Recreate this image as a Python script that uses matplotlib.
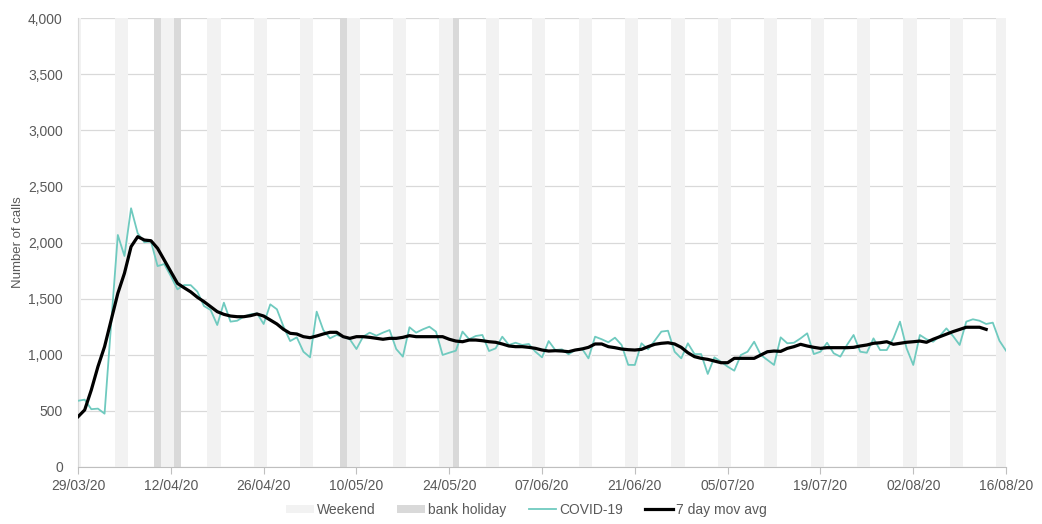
import numpy as np
import pandas as pd
import matplotlib
matplotlib.use('Agg')
import matplotlib.pyplot as plt
import matplotlib.dates as mdates
from matplotlib.patches import Patch
from matplotlib.lines import Line2D
from matplotlib.ticker import FuncFormatter, MultipleLocator

plt.rcParams['font.family'] = ['Liberation Sans', 'DejaVu Sans']

dates = pd.date_range('2020-03-29', '2020-08-16', freq='D')

covid = [590, 600, 515, 520, 475, 1280, 2067, 1880, 2305, 2082,
         2002, 2010, 1790, 1808, 1700, 1583, 1621, 1620, 1562, 1434,
         1399, 1265, 1464, 1295, 1303, 1339, 1360, 1369, 1274, 1449,
         1405, 1250, 1122, 1155, 1027, 977, 1384, 1220, 1146, 1176,
         1160, 1138, 1051, 1161, 1197, 1170, 1197, 1220, 1051, 983,
         1245, 1197, 1226, 1250, 1206, 998, 1018, 1036, 1206, 1138,
         1167, 1176, 1033, 1057, 1161, 1087, 1107, 1087, 1096, 1027,
         977, 1122, 1042, 1048, 1004, 1042, 1057, 968, 1161, 1138,
         1111, 1152, 1087, 910, 909, 1102, 1048, 1125, 1206, 1214,
         1027, 968, 1102, 1006, 1006, 829, 977, 938, 894, 858,
         998, 1027, 1116, 998, 953, 909, 1155, 1102, 1107, 1146,
         1191, 1006, 1027, 1107, 1013, 983, 1087, 1176, 1027, 1018,
         1146, 1042, 1042, 1146, 1295, 1057, 909, 1176, 1138, 1116,
         1167, 1235, 1167, 1087, 1295, 1316, 1303, 1274, 1286, 1125,
         1036]

mov_avg = [448, 508, 686, 894, 1072, 1310, 1547, 1726, 1963, 2052,
           2022, 2016, 1948, 1844, 1740, 1636, 1597, 1560, 1512, 1473,
           1428, 1384, 1360, 1345, 1339, 1339, 1348, 1363, 1345, 1310,
           1274, 1226, 1191, 1185, 1161, 1152, 1167, 1185, 1200, 1200,
           1161, 1146, 1161, 1161, 1155, 1146, 1138, 1146, 1146, 1155,
           1170, 1161, 1161, 1161, 1161, 1161, 1138, 1122, 1116, 1131,
           1131, 1125, 1116, 1111, 1096, 1078, 1072, 1072, 1066, 1057,
           1042, 1033, 1036, 1033, 1027, 1042, 1051, 1066, 1096, 1096,
           1072, 1063, 1051, 1045, 1042, 1048, 1072, 1093, 1102, 1107,
           1096, 1066, 1018, 983, 968, 959, 944, 929, 929, 968,
           968, 968, 968, 998, 1027, 1033, 1030, 1057, 1072, 1093,
           1078, 1066, 1057, 1063, 1063, 1063, 1063, 1066, 1078, 1087,
           1102, 1107, 1116, 1093, 1102, 1111, 1116, 1122, 1111, 1138,
           1161, 1185, 1206, 1226, 1245, 1245, 1245, 1226]

bank_holidays = pd.to_datetime(['2020-04-10', '2020-04-13', '2020-05-08', '2020-05-25'])
weekends = dates[dates.weekday >= 5]

teal = '#6fcabf'
grey_txt = '#595959'

fig = plt.figure(figsize=(10.42, 5.24), dpi=100)
ax = fig.add_axes([0.0749, 0.1088, 0.8906, 0.8568])

ax.bar(weekends, 4000, width=1.0, color='#f2f2f2', zorder=1)
ax.bar(bank_holidays, 4000, width=1.0, color='#d9d9d9', zorder=1)

ax.plot(dates, covid, color=teal, lw=1.3, zorder=3)
ax.plot(dates[:len(mov_avg)], mov_avg, color='black', lw=2.3, zorder=4)

ax.set_ylim(0, 4000)
ax.set_xlim(dates[0], dates[-1])
ax.yaxis.set_major_locator(MultipleLocator(500))
ax.yaxis.set_major_formatter(FuncFormatter(lambda v, p: f'{int(v):,}'))
ax.grid(axis='y', color='#d9d9d9', lw=0.9, zorder=0)
ax.set_axisbelow(True)

ticks = dates[::14]
ax.set_xticks(ticks)
ax.set_xticklabels([d.strftime('%d/%m/%y') for d in ticks])

for s in ['top', 'right']:
    ax.spines[s].set_visible(False)
ax.spines['left'].set_color('#d9d9d9')
ax.spines['bottom'].set_color('#bfbfbf')
ax.tick_params(axis='y', length=0, labelsize=10, colors=grey_txt, pad=11)
ax.tick_params(axis='x', length=5, color='#bfbfbf', labelsize=10, labelcolor=grey_txt, pad=4)
ax.set_ylabel('Number of calls', fontsize=9.5, color=grey_txt, labelpad=3)

handles = [Patch(facecolor='#f2f2f2', edgecolor='none', label='Weekend'),
           Patch(facecolor='#d9d9d9', edgecolor='none', label='bank holiday'),
           Line2D([], [], color=teal, lw=1.3, label='COVID-19'),
           Line2D([], [], color='black', lw=2.3, label='7 day mov avg')]
leg = fig.legend(handles=handles, loc='lower center', bbox_to_anchor=(0.505, -0.01),
                 ncol=4, frameon=False, fontsize=10, handlelength=2.0, handleheight=0.5,
                 columnspacing=1.6, handletextpad=0.2)
for t in leg.get_texts():
    t.set_color(grey_txt)

fig.savefig('out.png', dpi=100)
